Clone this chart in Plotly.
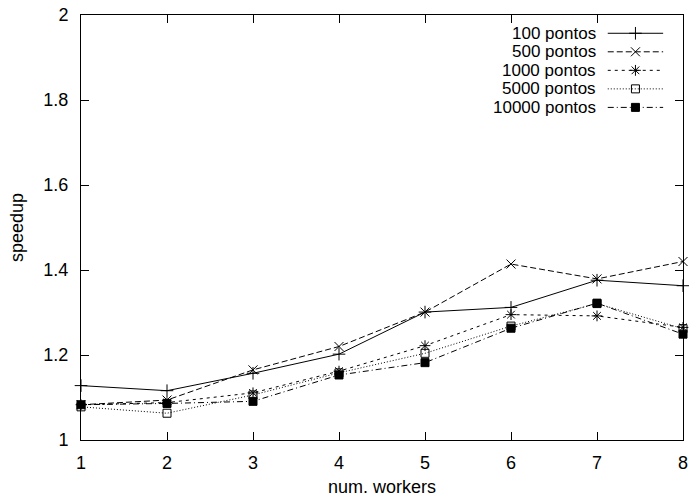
import plotly.graph_objects as go

workers = [1, 2, 3, 4, 5, 6, 7, 8]
series_names = ["100 pontos", "500 pontos", "1000 pontos", "5000 pontos", "10000 pontos"]
s100 = [1.128, 1.116, 1.157, 1.202, 1.301, 1.312, 1.376, 1.363]
s500 = [1.083, 1.094, 1.165, 1.220, 1.301, 1.414, 1.379, 1.420]
s1000 = [1.083, 1.088, 1.111, 1.162, 1.222, 1.295, 1.292, 1.265]
s5000 = [1.078, 1.063, 1.106, 1.158, 1.204, 1.268, 1.321, 1.262]
s10000 = [1.083, 1.086, 1.091, 1.153, 1.182, 1.263, 1.322, 1.249]
yticks = [1, 1.2, 1.4, 1.6, 1.8, 2]

values = [s100, s500, s1000, s5000, s10000]
dashes = ["solid", "6px,3px", "3px,4px", "1px,2px", "6px,3px,1px,3px"]
symbols = ["cross-thin-open", "x-thin-open", "asterisk-open", "square-open", "square"]
msizes = [9, 9, 9, 8, 8]

FONT = "Liberation Sans, Arial, sans-serif"
FS = 18
LFS = 17
XR = [1, 8]
YR = [1, 2]
fig = go.Figure()

for name, ys, dash, sym, ms in zip(series_names, values, dashes, symbols, msizes):
    fig.add_trace(go.Scatter(
        x=workers, y=ys, mode="lines+markers", name=name,
        line=dict(color="black", width=1, dash=dash),
        marker=dict(symbol=sym, size=ms, color="black", line=dict(color="black", width=1)),
        cliponaxis=False, showlegend=False,
    ))

# custom gnuplot-style legend (text left, sample right), placed in paper fractions
row0, step = 0.957, 0.0436
lx0, lx1, tx = 0.875, 0.967, 0.859
def px2x(f):
    return XR[0] + (XR[1] - XR[0]) * f
def py2y(f):
    return YR[0] + (YR[1] - YR[0]) * f
for i, (name, dash, sym, ms) in enumerate(zip(series_names, dashes, symbols, msizes)):
    yy = row0 - i * step
    fig.add_shape(type="line", xref="paper", yref="paper", x0=lx0, x1=lx1, y0=yy, y1=yy,
                  line=dict(color="black", width=1, dash=dash))
    fig.add_trace(go.Scatter(
        x=[px2x((lx0 + lx1) / 2)], y=[py2y(yy)], mode="markers",
        marker=dict(symbol=sym, size=ms, color="black", line=dict(color="black", width=1)),
        showlegend=False, hoverinfo="skip"))
    fig.add_annotation(x=tx, y=yy, xref="paper", yref="paper", text=name,
                       showarrow=False, xanchor="right", yanchor="middle",
                       font=dict(size=LFS, color="black", family=FONT))

axis_common = dict(showgrid=False, zeroline=False, showline=True, linecolor="black",
                   linewidth=1, mirror="allticks", ticks="inside", ticklen=8,
                   tickcolor="black", tickwidth=1, ticklabeloverflow="allow",
                   automargin=False,
                   tickfont=dict(size=FS, color="black", family=FONT))

fig.update_layout(
    width=689, height=497,
    margin=dict(l=81, r=6, t=15, b=57),
    paper_bgcolor="white", plot_bgcolor="white",
    font=dict(family=FONT, size=FS, color="black"),
    xaxis=dict(range=XR, tickvals=workers, ticklabelstandoff=6,
               title=dict(text="num. workers", standoff=10, font=dict(size=FS)), **axis_common),
    yaxis=dict(range=YR, tickvals=yticks, ticklabelstandoff=8,
               title=dict(text="speedup", standoff=15, font=dict(size=FS)), **axis_common),
)

# remove the default 8px page margin so the figure fills the window exactly
fig.write_html("out.html", config={"displayModeBar": False},
               post_script="document.body.style.margin='0';")
